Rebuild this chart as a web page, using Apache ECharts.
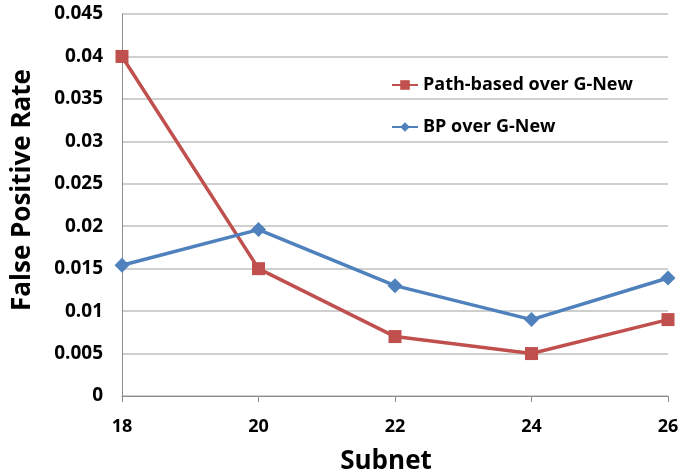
<!DOCTYPE html>
<html>
<head>
<meta charset="utf-8">
<script src="https://cdn.jsdelivr.net/npm/echarts@6/dist/echarts.min.js"></script>
<style>
  html, body { margin: 0; padding: 0; background: #fff; }
  #chart { width: 697px; height: 476px; }
</style>
</head>
<body>
<div id="chart"></div>
<script>
// data
const subnets = ['18', '20', '22', '24', '26']
const pathBased = [0.04, 0.015, 0.007, 0.005, 0.009]
const bpOverGNew = [0.0154, 0.0196, 0.013, 0.009, 0.0139]

const font = '"Open Sans", sans-serif'
const chart = echarts.init(document.getElementById('chart'))

chart.setOption({
  animation: false,
  textStyle: { fontFamily: font },
  grid: { left: 122, right: 29, top: 14, bottom: 80, containLabel: false, outerBoundsMode: 'none' },
  legend: {
    orient: 'vertical',
    left: 386,
    top: 71,
    itemGap: 24,
    itemWidth: 26,
    itemHeight: 12,
    textStyle: { fontSize: 18, fontWeight: 'bold', color: '#000', fontFamily: font },
    data: ['Path-based over G-New', 'BP over G-New']
  },
  xAxis: {
    type: 'category',
    data: subnets,
    boundaryGap: false,
    name: 'Subnet',
    nameLocation: 'middle',
    nameGap: 53,
    nameTextStyle: { fontSize: 26, fontWeight: 'bold', color: '#000', fontFamily: font, padding: [0, 18, 0, 0] },
    axisLine: { lineStyle: { color: '#8c8c8c', width: 1 } },
    axisTick: { show: true, alignWithLabel: true, length: 6, lineStyle: { color: '#8c8c8c' } },
    axisLabel: { fontSize: 18, fontWeight: 'bold', color: '#000', margin: 22, fontFamily: font }
  },
  yAxis: {
    type: 'value',
    min: 0,
    max: 0.045,
    interval: 0.005,
    name: 'False Positive Rate',
    nameLocation: 'middle',
    nameGap: 86,
    nameTextStyle: { fontSize: 26, fontWeight: 'bold', color: '#000', fontFamily: font, padding: [0, 0, 0, 30] },
    axisLine: { show: true, lineStyle: { color: '#8c8c8c', width: 1 } },
    axisTick: { show: false },
    axisLabel: {
      fontSize: 19, fontWeight: 'bold', color: '#000', margin: 19, fontFamily: font,
      formatter: v => String(parseFloat(v.toFixed(3)))
    },
    splitLine: { lineStyle: { color: '#bfbfbf', width: 1.5 } }
  },
  series: [
    {
      name: 'Path-based over G-New',
      type: 'line',
      data: pathBased,
      symbol: 'rect',
      symbolSize: 13,
      lineStyle: { color: '#C0504D', width: 3.5 },
      itemStyle: { color: '#C0504D' }
    },
    {
      name: 'BP over G-New',
      type: 'line',
      data: bpOverGNew,
      symbol: 'diamond',
      symbolSize: 15,
      lineStyle: { color: '#4F81BD', width: 3.5 },
      itemStyle: { color: '#4F81BD' }
    }
  ]
})
</script>
</body>
</html>
